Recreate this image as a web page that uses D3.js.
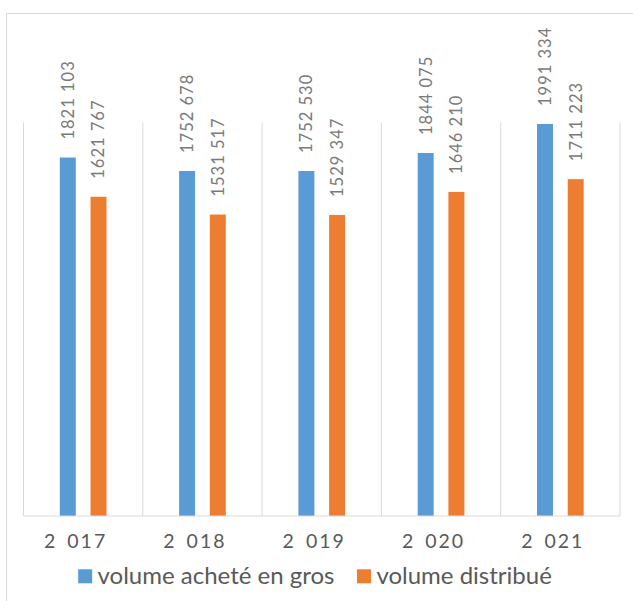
<!DOCTYPE html>
<html>
<head>
<meta charset="utf-8">
<script src="https://cdn.jsdelivr.net/npm/d3@7"></script>
<style>
  html, body { margin: 0; padding: 0; background: #fff; }
  svg { display: block; font-family: Lato, "Open Sans", sans-serif; }
</style>
</head>
<body>
<svg id="chart" width="633" height="601"></svg>
<script>
// Volumes per year
const years = ["2017", "2018", "2019", "2020", "2021"];
const seriesNames = ["volume acheté en gros", "volume distribué"];
const achete = [1821103, 1752678, 1752530, 1844075, 1991334];
const distribue = [1621767, 1531517, 1529347, 1646210, 1711223];
const colors = ["#5B9BD5", "#ED7D31"];

const values = [achete, distribue];
const rows = years.map((y, i) => ({ year: y, vals: values.map(v => v[i]) }));

// "# ##0" style: a space before the last three digits only
const fmt = v => {
  const hi = Math.floor(v / 1000), lo = v % 1000;
  return hi > 0 ? `${hi} ${String(lo).padStart(3, "0")}` : String(lo);
};

const svg = d3.select("#chart");

// Chart frame
svg.append("rect")
  .attr("x", 6.5).attr("y", 13.5)
  .attr("width", 700).attr("height", 700)
  .attr("fill", "none").attr("stroke", "#d9d9d9").attr("stroke-width", 1);

const plot = { left: 23.5, right: 620, top: 122.3, bottom: 516 };

const x0 = d3.scaleBand().domain(years).range([plot.left, plot.right]).padding(0);
const clusterWidth = 46.7;
const x1 = d3.scaleBand().domain(d3.range(seriesNames.length))
  .range([0, clusterWidth]).paddingInner(0.48).paddingOuter(0);
const y = d3.scaleLinear().domain([0, 2000000]).range([plot.bottom, plot.top]);

// Category separators
const seps = years.map(d => x0(d)).concat([plot.right]);
svg.append("g").selectAll("line").data(seps).join("line")
  .attr("x1", d => d).attr("x2", d => d)
  .attr("y1", plot.top).attr("y2", plot.bottom)
  .attr("stroke", "#d9d9d9").attr("stroke-width", 1);

// Bars
const groupOffset = (x0.bandwidth() - clusterWidth) / 2;
const groups = svg.append("g").selectAll("g").data(rows).join("g")
  .attr("transform", d => `translate(${x0(d.year) + groupOffset},0)`);

groups.selectAll("rect").data(d => d.vals.map((v, k) => ({ v, k }))).join("rect")
  .attr("x", d => x1(d.k))
  .attr("width", x1.bandwidth())
  .attr("y", d => y(d.v))
  .attr("height", d => y(0) - y(d.v))
  .attr("fill", d => colors[d.k]);

// Rotated value labels above bars
groups.selectAll("text").data(d => d.vals.map((v, k) => ({ v, k }))).join("text")
  .attr("transform", d => `translate(${x1(d.k) + x1.bandwidth() / 2},${y(d.v) - 18}) rotate(-90)`)
  .attr("dy", "0.36em")
  .attr("text-anchor", "start")
  .attr("font-size", 16.5)
  .attr("letter-spacing", 1)
  .attr("fill", "#7a7a7a")
  .text(d => fmt(d.v));

// Category axis line
svg.append("line")
  .attr("x1", plot.left).attr("x2", plot.right)
  .attr("y1", plot.bottom).attr("y2", plot.bottom)
  .attr("stroke", "#d9d9d9").attr("stroke-width", 1);

// Category labels ("2 017" with a wide group gap)
const yearLabels = svg.append("g").selectAll("text").data(years).join("text")
  .attr("x", d => x0(d) + 20.5)
  .attr("y", 548.3)
  .attr("font-size", 19.5)
  .attr("letter-spacing", 2)
  .attr("fill", "#595959");
yearLabels.append("tspan").text(d => d.slice(0, 1));
yearLabels.append("tspan").attr("dx", 3).text(d => " " + d.slice(1));

// Legend
const legend = svg.append("g");
const items = legend.selectAll("g").data(seriesNames).join("g");
items.append("rect")
  .attr("width", 14).attr("height", 14)
  .attr("fill", (d, i) => colors[i]);
items.append("text")
  .attr("x", 19.4).attr("y", 15)
  .attr("font-size", 24)
  .attr("fill", "#595959")
  .text(d => d);
const widths = [];
items.each(function () {
  widths.push(19.4 + d3.select(this).select("text").node().getComputedTextLength());
});
const gap = 22.5;
const total = d3.sum(widths) + gap * (widths.length - 1);
let start = 315 - total / 2;
items.attr("transform", (d, i) => {
  const t = `translate(${start},569.3)`;
  start += widths[i] + gap;
  return t;
});
</script>
</body>
</html>
